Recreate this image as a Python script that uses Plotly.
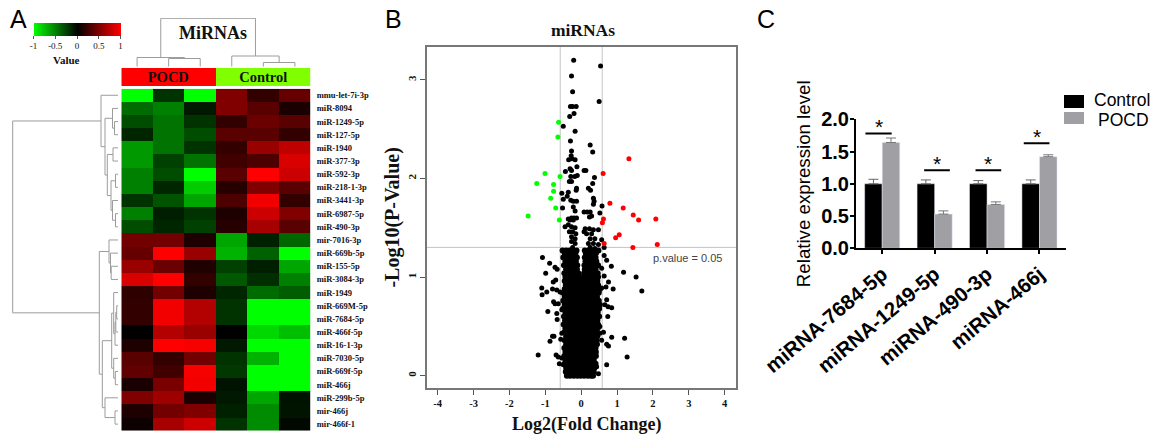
import plotly.graph_objects as go

W, H = 1158, 438
SERIF = "Liberation Serif"
SANS = "Liberation Sans"

# ---------- Panel A data ----------
groups = ["POCD", "Control"]
mirnas = ["mmu-let-7i-3p", "miR-8094", "miR-1249-5p", "miR-127-5p", "miR-1940", "miR-377-3p", "miR-592-3p",
          "miR-218-1-3p", "miR-3441-3p", "miR-6987-5p", "miR-490-3p", "mir-7016-3p", "miR-669b-5p", "miR-155-5p",
          "miR-3084-3p", "miR-1949", "miR-669M-5p", "miR-7684-5p", "miR-466f-5p", "miR-16-1-3p", "miR-7030-5p",
          "miR-669f-5p", "miR-466j", "miR-299b-5p", "mir-466j", "mir-466f-1"]
expr = [
    [-1.0, -0.2, -1.0, 0.5, 0.2, 0.4],
    [-0.42, -0.5, -0.1, 0.5, 0.35, 0.1],
    [-0.3, -0.45, -0.2, 0.2, 0.42, 0.35],
    [-0.15, -0.45, -0.3, 0.35, 0.35, 0.2],
    [-0.6, -0.45, -0.2, 0.2, 0.6, 0.75],
    [-0.6, -0.25, -0.45, 0.25, 0.3, 0.85],
    [-0.5, -0.3, -1.0, 0.35, 1.0, 0.8],
    [-0.5, -0.15, -0.8, 0.15, 0.5, 0.35],
    [-0.2, -0.33, -0.65, 0.3, 0.95, 0.2],
    [-0.5, -0.12, -0.2, 0.12, 0.8, 0.5],
    [-0.3, -0.15, -0.25, 0.15, 0.65, 0.35],
    [0.45, 0.45, 0.12, -0.65, -0.13, -0.4],
    [0.4, 1.0, 0.6, -0.7, -0.38, -1.0],
    [0.6, 0.42, 0.13, -0.25, -0.12, -0.65],
    [0.85, 1.0, 0.2, -0.35, -0.18, -0.5],
    [0.18, 0.45, 0.12, -0.15, -0.42, -0.37],
    [0.2, 0.95, 0.7, -0.2, -1.0, -1.0],
    [0.2, 0.95, 0.7, -0.2, -1.0, -1.0],
    [0.0, 0.7, 0.6, 0.0, -0.85, -0.75],
    [0.12, 1.0, 0.97, -0.1, -1.0, -1.0],
    [0.35, 0.2, 0.45, -0.2, -0.7, -1.0],
    [0.38, 0.25, 0.97, -0.22, -1.0, -1.0],
    [0.1, 0.48, 0.95, -0.07, -1.0, -1.0],
    [0.5, 0.62, 0.1, -0.1, -0.65, -0.07],
    [0.12, 0.45, 0.5, -0.13, -0.55, -0.08],
    [0.05, 0.65, 0.8, -0.2, -0.55, -0.03],
]
# dendrograms as (height, child, child); an int child is a leaf index
row_tree = (105.3,
            (17, 0, (13, (5.5, 1, (3.5, 2, 3)),
                     (10.7, (5, 4, 5), (7, (2.5, 6, 7), (5.5, 8, (2.5, 9, 10)))))),
            (18.7,
             (9, 11, (7.5, 12, (6.8, 13, 14))),
             (15.7,
              (6.3, (4.3, 15, (3, (2.2, (1.3, 16, 17), 18), 19)), (4.3, 20, (2.7, 21, 22))),
              (13, 23, (3, 24, 25)))))
col_tree = (48.4, (9.2, 0, (8.2, 1, 2)), (10.7, 3, (4.2, 4, 5)))

# ---------- Panel B data ----------
green_x = [-0.63, -0.65, -1.01, -0.59, -1.24, -0.77, -0.77, -0.85, -0.71, -1.48, -0.61]
green_y = [2.57, 2.42, 2.05, 2.02, 1.95, 1.94, 1.87, 1.80, 1.70, 1.62, 1.58]
red_x = [1.33, 0.61, 0.80, 1.17, 1.45, 1.60, 2.08, 0.62, 0.59, 1.06, 0.96, 0.64, 1.44, 2.12]
red_y = [2.20, 2.05, 1.75, 1.70, 1.63, 1.58, 1.59, 1.59, 1.55, 1.43, 1.40, 1.34, 1.30, 1.33]
black_pts = [
    (-.21, 3.20), (.54, 3.14), (-.27, 3.04), (-.24, 2.88), (.50, 2.78), (-.30, 2.73), (-.24, 2.73), (-.14, 2.73),
    (-.20, 2.66), (-.32, 2.63), (-.50, 2.53), (-.17, 2.48), (-.30, 2.38), (.25, 2.34), (.32, 2.27), (-.27, 2.28),
    (-.28, 2.23), (-.35, 2.19), (-.26, 2.20), (-.17, 2.19), (-.12, 2.12), (-.31, 2.10), (-.27, 2.08), (.08, 2.08),
    (.13, 2.08), (-.44, 2.07), (-.11, 2.03), (-.18, 2.02), (-.29, 2.02), (.37, 2.01), (-.33, 1.97), (-.27, 1.97),
    (.32, 1.95), (-.13, 1.90), (-.14, 1.88), (.20, 1.90), (.26, 1.88), (-.54, 1.85), (-.36, 1.86), (-.39, 1.82),
    (-.50, 1.79), (-.29, 1.78), (-.22, 1.77), (-.13, 1.77), (.34, 1.80), (.36, 1.77), (.34, 1.74), (.58, 1.72),
    (-.22, 1.71), (-.17, 1.67), (-.52, 1.70), (.08, 1.66), (.17, 1.66), (.25, 1.66), (.52, 1.65), (.29, 1.62),
    (.23, 1.61), (-.27, 1.60), (-.36, 1.59), (-.20, 1.60), (-.13, 1.60),
    (-.31, 1.58), (-.22, 1.58), (-.36, 1.53), (-.45, 1.51), (-.27, 1.51), (-.17, 1.50), (-.33, 1.46), (-.24, 1.46),
    (-.15, 1.44), (-.27, 1.41), (-.17, 1.39), (-.27, 1.36), (-.17, 1.34), (-.24, 1.30),
    (.11, 1.49), (.23, 1.49), (.34, 1.48), (.48, 1.48), (.15, 1.44), (.29, 1.44), (.08, 1.46), (.25, 1.39),
    (.38, 1.39), (.20, 1.34), (.34, 1.34), (.48, 1.33), (.57, 1.38), (.64, 1.30), (.25, 1.30), (.38, 1.29),
    (-1.08, 1.20), (-.88, 1.14), (-.99, 1.04), (-.73, 1.10), (-.67, 1.08), (-.78, .95), (-.71, .97), (-1.10, .89),
    (-1.09, .82), (-.96, .85), (-.80, .88), (-.68, .87), (-.59, .85), (-.77, .75), (-.73, .73), (-.64, .73),
    (-.93, .65), (-.68, .63), (-.67, .57), (-.54, .67), (-.54, .43), (-.57, .37), (-.80, .40), (-.76, .40),
    (-.87, .35), (-1.20, .21), (-.70, .21), (-.64, .19), (-.54, .18), (-.61, .12), (-.50, .11),
    (.64, 1.22), (.71, 1.17), (.84, 1.11), (.57, 1.09), (.64, 1.01), (1.18, 1.05), (1.53, 1.00), (1.69, .86),
    (.89, .88), (.76, .95), (.69, .90), (.57, .89), (.71, .77), (.66, .72), (.85, .69), (.75, .70), (.74, .60),
    (.52, .50), (.62, .44), (.52, .43), (.85, .39), (1.21, .38), (.57, .36), (.71, .32), (.76, .30), (1.28, .19),
    (.71, .11), (.48, .02), (.43, .09), (.34, .19),
]
core_rows = {
    0.00: [-.40, -.31, -.21, -.11, -.02, .08, .18, .27, .33],
    0.04: [-.43, -.34, -.24, -.14, -.04, .06, .15, .25, .35],
    0.08: [-.42, -.32, -.22, -.12, -.03, .07, .17, .27, .37],
    0.12: [-.46, -.36, -.26, -.16, -.06, .04, .14, .24, .34, .40],
    0.16: [-.44, -.34, -.24, -.14, -.04, .05, .15, .25, .35],
    0.20: [-.47, -.37, -.27, -.17, -.07, .03, .13, .23, .33, .41],
    0.24: [-.44, -.34, -.24, -.14, -.05, .05, .15, .25, .35, .41],
    0.28: [-.47, -.38, -.28, -.18, -.08, .02, .12, .22, .32, .40],
    0.32: [-.42, -.32, -.22, -.12, -.02, .08, .18, .28, .38, .44],
    0.36: [-.46, -.36, -.26, -.16, -.06, .04, .14, .24, .34, .43],
    0.40: [-.42, -.33, -.23, -.13, -.03, .07, .17, .27, .37, .45],
    0.44: [-.47, -.37, -.27, -.17, -.07, .03, .13, .23, .33, .43],
    0.48: [-.44, -.34, -.24, -.14, -.04, .06, .16, .26, .36, .46],
    0.52: [-.49, -.39, -.29, -.19, -.09, .01, .11, .21, .31, .41, .47],
    0.56: [-.45, -.35, -.25, -.15, -.05, .05, .15, .25, .35, .45],
    0.60: [-.48, -.38, -.28, -.18, -.08, .02, .12, .22, .32, .42, .50],
    0.64: [-.44, -.34, -.24, -.14, -.04, .06, .16, .26, .36, .46],
    0.68: [-.50, -.40, -.30, -.20, -.10, .00, .10, .20, .30, .40, .50],
    0.72: [-.46, -.36, -.26, -.16, -.06, .04, .14, .24, .34, .44, .52],
    0.76: [-.50, -.41, -.31, -.21, -.11, -.01, .09, .19, .29, .39, .49],
    0.80: [-.46, -.36, -.26, -.16, -.06, .04, .14, .24, .34, .44],
    0.84: [-.51, -.41, -.31, -.21, -.11, -.01, .09, .19, .29, .39, .49],
    0.88: [-.46, -.36, -.26, -.16, -.06, .04, .14, .24, .34, .44, .52],
    0.92: [-.43, -.33, -.23, -.13, -.03, .07, .17, .27, .37, .47],
    0.96: [-.46, -.36, -.26, -.16, -.06, .05, .15, .25, .35, .45],
    1.00: [-.44, -.34, -.24, -.14, -.05, .07, .17, .27, .37, .47],
    1.04: [-.47, -.37, -.27, -.17, -.08, .08, .18, .28, .38, .46],
    1.08: [-.42, -.32, -.22, -.12, .10, .20, .30, .40],
    1.12: [-.48, -.38, -.28, -.18, -.11, .09, .19, .29, .39, .47],
    1.16: [-.44, -.34, -.24, -.15, .12, .22, .32, .42],
    1.20: [-.50, -.40, -.30, -.20, -.12, .10, .20, .30, .40],
    1.24: [-.46, -.36, -.26, -.16, .13, .23, .33, .41],
    1.27: [-.52, -.42, -.32, -.22, -.13, .10, .20, .30, .38, .48],
}
fc_cut = [-0.585, 0.585]
p_cut = 1.301

# ---------- Panel C data ----------
targets = ["miRNA-7684-5p", "miRNA-1249-5p", "miRNA-490-3p", "miRNA-466j"]
control_mean = [1.0, 1.0, 1.0, 1.0]
control_err = [0.07, 0.06, 0.05, 0.06]
pocd_mean = [1.64, 0.53, 0.68, 1.42]
pocd_err = [0.07, 0.05, 0.04, 0.03]
sig_start = [-0.32, 0.80, 1.78, 2.70]
sig_end = [0.18, 1.29, 2.27, 3.19]
sig_level = [1.78, 1.21, 1.21, 1.63]
CONTROL_COLOR, POCD_COLOR = "#000000", "#a0a0a4"


def dom_x(a, b):
    return [a / W, b / W]


def dom_y(top, bottom):
    return [1 - bottom / H, 1 - top / H]


def tree_lines(node, hs, ps):
    """Walk a merge tree; returns the node's position and height."""
    if isinstance(node, int):
        return node, 0
    h, a, b = node
    pa, ha = tree_lines(a, hs, ps)
    pb, hb = tree_lines(b, hs, ps)
    hs += [ha, h, h, hb, None]
    ps += [pa, pa, pb, pb, None]
    return (pa + pb) / 2, h


fig = go.Figure()
DENDRO = "#9c9c9c"

# Heatmap
fig.add_trace(go.Heatmap(
    z=expr, x=list(range(6)), y=list(range(len(mirnas))), xaxis="x", yaxis="y",
    zmin=-1, zmax=1, colorscale=[[0, "#00ff00"], [0.5, "#000000"], [1, "#ff0000"]],
    colorbar=dict(orientation="h", lenmode="pixels", len=86.5, thicknessmode="pixels", thickness=13,
                  x=33.5 / W, xanchor="left", y=1 - 23 / H, yanchor="top", xpad=0, ypad=0,
                  outlinewidth=0, ticks="outside", ticklen=3, tickcolor="#555", tickwidth=1,
                  tickvals=[-1, -0.5, 0, 0.5, 1], ticktext=["-1", "-0.5", "0", "0.5", "1"],
                  tickfont=dict(family=SERIF, size=9, color="#111")),
))
# Dendrograms
hs, ps = [], []
tree_lines(row_tree, hs, ps)
fig.add_trace(go.Scatter(x=hs, y=ps, mode="lines", line=dict(color=DENDRO, width=1), xaxis="x2", yaxis="y",
                         showlegend=False, hoverinfo="skip"))
hs, ps = [], []
tree_lines(col_tree, hs, ps)
fig.add_trace(go.Scatter(x=ps, y=hs, mode="lines", line=dict(color=DENDRO, width=1), xaxis="x", yaxis="y3",
                         showlegend=False, hoverinfo="skip"))
# Group band
fig.add_trace(go.Heatmap(z=[[0, 1]], x=[0, 1], y=[0], xaxis="x4", yaxis="y4", showscale=False, zmin=0, zmax=1,
                         colorscale=[[0, "#ff0000"], [1, "#80ff00"]], text=[groups],
                         texttemplate="<b>%{text}</b>", textfont=dict(family=SERIF, size=14.5, color="#111"),
                         xgap=0))

# Volcano
core_x = [x for xs in core_rows.values() for x in xs]
core_y = [y for y, xs in core_rows.items() for _ in xs]
for cut in fc_cut:
    fig.add_trace(go.Scatter(x=[cut, cut], y=[-0.125, 3.337], mode="lines", line=dict(color="#c4c4c4", width=1),
                             xaxis="x5", yaxis="y5", showlegend=False, hoverinfo="skip"))
fig.add_trace(go.Scatter(x=[-4.307, 4.315], y=[p_cut, p_cut], mode="lines", line=dict(color="#c4c4c4", width=1),
                         xaxis="x5", yaxis="y5", showlegend=False, hoverinfo="skip"))
fig.add_trace(go.Scatter(x=core_x, y=core_y, mode="markers", marker=dict(color="#000000", size=6),
                         xaxis="x5", yaxis="y5", showlegend=False))
fig.add_trace(go.Scatter(x=[p[0] for p in black_pts], y=[p[1] for p in black_pts], mode="markers",
                         marker=dict(color="#000000", size=5), xaxis="x5", yaxis="y5", showlegend=False))
fig.add_trace(go.Scatter(x=green_x, y=green_y, mode="markers", marker=dict(color="#00ff00", size=5),
                         xaxis="x5", yaxis="y5", showlegend=False))
fig.add_trace(go.Scatter(x=red_x, y=red_y, mode="markers", marker=dict(color="#ff0000", size=5),
                         xaxis="x5", yaxis="y5", showlegend=False))

# Bars
fig.add_trace(go.Bar(name="Control", x=list(range(4)), y=control_mean, marker=dict(color=CONTROL_COLOR),
                     error_y=dict(type="data", array=control_err, arrayminus=[0] * 4, color="#666666",
                                  thickness=1, width=5),
                     xaxis="x6", yaxis="y6", showlegend=False))
fig.add_trace(go.Bar(name="POCD", x=list(range(4)), y=pocd_mean, marker=dict(color=POCD_COLOR),
                     error_y=dict(type="data", array=pocd_err, arrayminus=[0] * 4, color="#777777",
                                  thickness=1, width=5),
                     xaxis="x6", yaxis="y6", showlegend=False))
for a, b, lv in zip(sig_start, sig_end, sig_level):
    fig.add_trace(go.Scatter(x=[a, b], y=[lv, lv], mode="lines", line=dict(color="#000000", width=2),
                             xaxis="x6", yaxis="y6", showlegend=False, hoverinfo="skip"))

annotations = [
    dict(text="A", x=8 / W, y=1 - 19 / H, xanchor="left", yanchor="middle", font=dict(family=SANS, size=25, color="#000")),
    dict(text="B", x=383 / W, y=1 - 19 / H, xanchor="left", yanchor="middle", font=dict(family=SANS, size=25, color="#000")),
    dict(text="C", x=755 / W, y=1 - 19 / H, xanchor="left", yanchor="middle", font=dict(family=SANS, size=25, color="#000")),
    dict(text="<b>MiRNAs</b>", x=213 / W, y=1 - 33 / H, xanchor="center", yanchor="middle",
         font=dict(family=SERIF, size=18, color="#111")),
    dict(text="<b>Value</b>", x=66 / W, y=1 - 60 / H, xanchor="center", yanchor="middle",
         font=dict(family=SERIF, size=11, color="#111")),
    dict(text="<b>Log2(Fold Change)</b>", x=587 / W, y=1 - 424 / H, xanchor="center", yanchor="middle",
         font=dict(family=SERIF, size=18, color="#111")),
    dict(text="Control", x=1092 / W, y=1 - 100 / H, xanchor="left", yanchor="middle",
         font=dict(family=SANS, size=17.5, color="#000")),
    dict(text="POCD", x=1096 / W, y=1 - 120 / H, xanchor="left", yanchor="middle",
         font=dict(family=SANS, size=17.5, color="#000")),
]
for k in annotations:
    k.update(xref="paper", yref="paper", showarrow=False)
annotations.append(dict(text="p.value = 0.05", xref="x5", yref="y5", x=2.97, y=1.19, showarrow=False,
                        font=dict(family=SANS, size=11, color="#444")))
for a, b, lv in zip(sig_start, sig_end, sig_level):
    annotations.append(dict(text="*", xref="x6", yref="y6", x=(a + b) / 2, y=lv, yanchor="bottom", yshift=-7,
                            showarrow=False, font=dict(family=SANS, size=21, color="#000")))

# legend swatches beside the legend texts
shapes = [
    dict(type="rect", xref="paper", yref="paper", x0=1064 / W, x1=1084 / W, y0=1 - 108 / H, y1=1 - 95 / H,
         fillcolor=CONTROL_COLOR, line_width=0),
    dict(type="rect", xref="paper", yref="paper", x0=1064 / W, x1=1084 / W, y0=1 - 124 / H, y1=1 - 112 / H,
         fillcolor=POCD_COLOR, line_width=0),
]

hidden = dict(visible=False, showgrid=False, zeroline=False)
fig.update_layout(
    width=W, height=H, margin=dict(l=0, r=0, t=0, b=0, autoexpand=False), plot_bgcolor="white", paper_bgcolor="white",
    barmode="group", bargap=0.33, bargroupgap=0, annotations=annotations, shapes=shapes,
    title=dict(text="<b>miRNAs</b>", x=583 / W, xanchor="center", y=1 - 30 / H, yanchor="middle",
               font=dict(family=SERIF, size=17.5, color="#111")),
    xaxis=dict(domain=dom_x(121.3, 310.7), range=[-0.5, 5.5], **hidden),
    yaxis=dict(domain=dom_y(88.7, 430.7), range=[25.5, -0.5], side="right", anchor="x", showgrid=False, zeroline=False,
               tickmode="array", tickvals=list(range(len(mirnas))), ticktext=[f"<b>{m}</b>" for m in mirnas],
               ticks="", ticklabelstandoff=5, tickfont=dict(family=SERIF, size=8.5, color="#111")),
    xaxis2=dict(domain=dom_x(12, 118), range=[106, 0], anchor="y", **hidden),
    yaxis3=dict(domain=dom_y(18, 66.7), range=[0, 48.7], anchor="x", **hidden),
    xaxis4=dict(domain=dom_x(121.3, 310.7), range=[-0.5, 1.5], anchor="y4", **hidden),
    yaxis4=dict(domain=dom_y(68, 86), range=[-0.5, 0.5], anchor="x4", **hidden),
    xaxis5=dict(domain=dom_x(426.7, 736), range=[-4.307, 4.315], anchor="y5", showgrid=False, zeroline=False,
                showline=True, mirror=True, linecolor="#777777", linewidth=1.5, ticks="outside", ticklen=5,
                tickcolor="#555", tickmode="array", tickvals=list(range(-4, 5)),
                ticktext=[f"<b>{v}</b>" for v in range(-4, 5)],
                tickfont=dict(family=SERIF, size=10.5, color="#111")),
    yaxis5=dict(domain=dom_y(46.7, 388), range=[-0.125, 3.337], anchor="x5", showgrid=False, zeroline=False,
                showline=True, mirror=True, linecolor="#777777", linewidth=1.5, ticks="outside", ticklen=5,
                tickcolor="#555", tickmode="array", tickvals=[0, 1, 2, 3],
                ticktext=[f"<b>{v}</b>" for v in range(4)], tickangle=-90,
                tickfont=dict(family=SERIF, size=11, color="#111"),
                title=dict(text="<b>-Log10(P-Value)</b>", font=dict(family=SERIF, size=20, color="#111"), standoff=1)),
    xaxis6=dict(domain=dom_x(856, 1065.7), range=[-0.5, 3.5], anchor="y6", showgrid=False, zeroline=False,
                showline=True, linecolor="#000", linewidth=2, ticks="outside", ticklen=4, tickwidth=2, tickcolor="#000",
                tickmode="array", tickvals=list(range(4)), ticktext=[f"<b>{t}</b>" for t in targets], tickangle=-40,
                tickfont=dict(family=SANS, size=20.5, color="#000")),
    yaxis6=dict(domain=dom_y(119.3, 248.3), range=[0, 2], anchor="x6", showgrid=False, zeroline=False,
                showline=True, linecolor="#000", linewidth=2, ticks="outside", ticklen=4, tickwidth=2, tickcolor="#000",
                tickmode="array", tickvals=[0, 0.5, 1, 1.5, 2], ticktext=[f"<b>{v}</b>" for v in ["0.0", "0.5", "1.0", "1.5", "2.0"]],
                ticklabelstandoff=-3, tickfont=dict(family=SANS, size=20, color="#000"),
                title=dict(text="Relative expression level", font=dict(family=SANS, size=18.7, color="#000"), standoff=6)),
)
fig.write_html("out.html", post_script="document.body.style.margin='0';", config=dict(displayModeBar=False))
